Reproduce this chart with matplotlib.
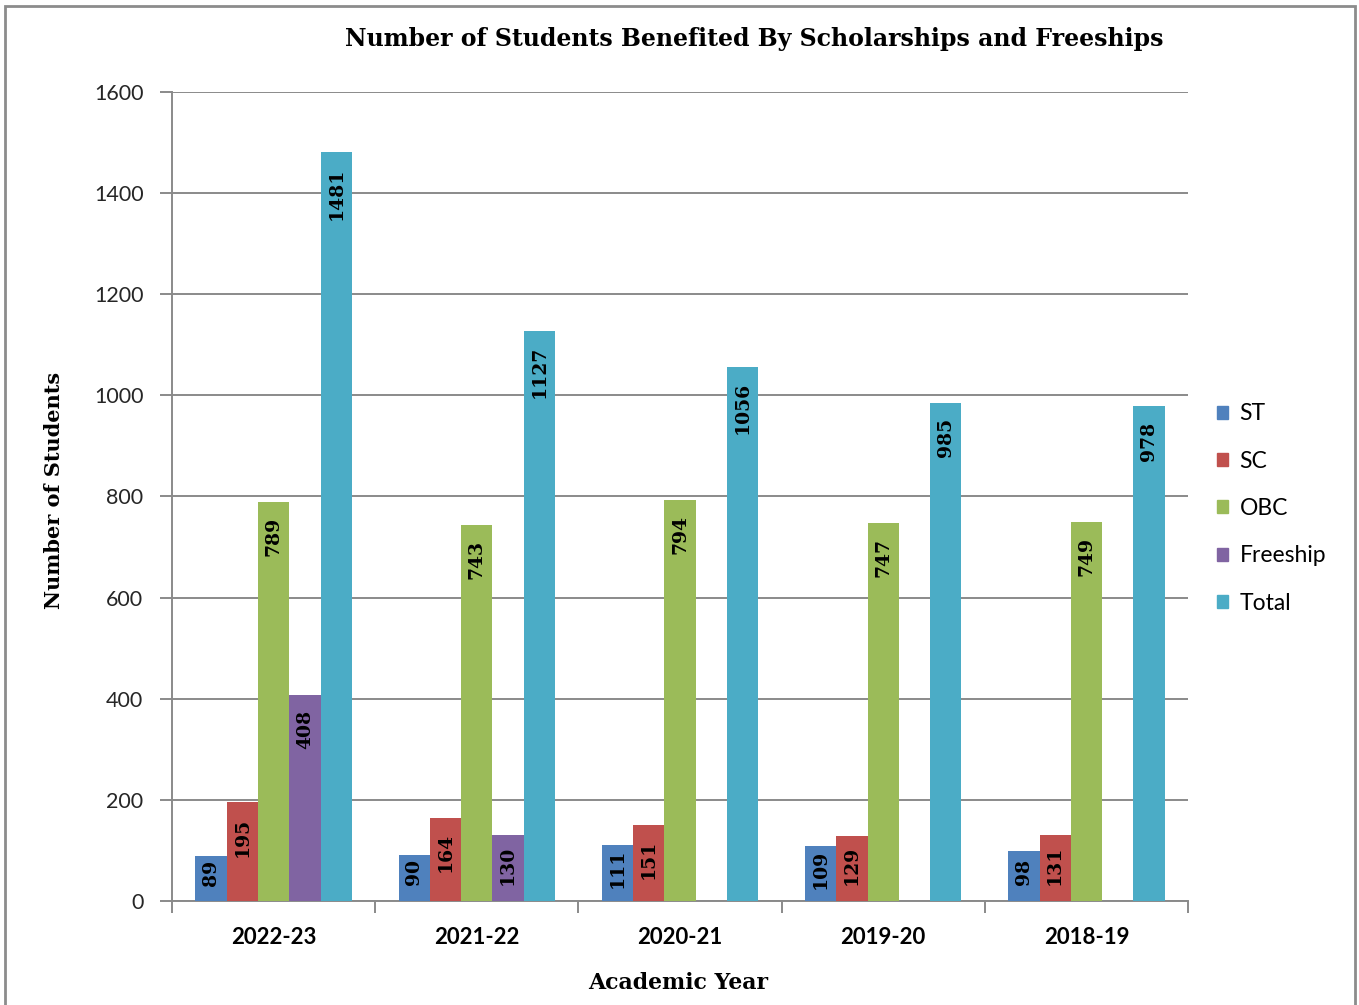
"""
Grouped bar chart: students benefited by scholarships and freeships.
"""
import numpy as np
import matplotlib.pyplot as plt
from matplotlib.patches import Rectangle, Patch

# Data

years = ["2022-23", "2021-22", "2020-21", "2019-20", "2018-19"]
series_names = ["ST", "SC", "OBC", "Freeship", "Total"]

st = [89, 90, 111, 109, 98]
sc = [195, 164, 151, 129, 131]
obc = [789, 743, 794, 747, 749]
freeship = [408, 130, np.nan, np.nan, np.nan]
total = [1481, 1127, 1056, 985, 978]

colors = ["#4F81BD", "#C0504D", "#9BBB59", "#8064A2", "#4BACC6"]

SANS = ["Lato", "DejaVu Sans"]
SERIF = ["DejaVu Serif"]

# Plot

fig = plt.figure(figsize=(13.59, 10.05), dpi=100)
ax = fig.add_axes([0.1266, 0.1035, 0.7476, 0.805])

x = np.arange(len(years))
bar_w = 0.154
all_series = [st, sc, obc, freeship, total]

# pixels per data unit on y (axes is 809 px tall for 0..1600)
px_per_unit = 809 / 1600

for i, (name, vals) in enumerate(zip(series_names, all_series)):
    pos = x + (i - 2) * bar_w
    vals = np.array(vals, dtype=float)
    ax.bar(pos, np.nan_to_num(vals), width=bar_w, color=colors[i],
           label=name, zorder=3)
    for xp, v in zip(pos, vals):
        if np.isnan(v):
            continue
        txt = f"{int(v)}"
        # inside end, pulled up a little when the bar is short
        label_px = 13.5 * len(txt)
        bar_px = v * px_per_unit
        off_px = max(4, min(15, bar_px - 15 - label_px))
        ax.text(xp, v - off_px / px_per_unit, txt, rotation=90,
                ha="center", va="top", fontsize=13.5, fontweight="bold",
                family=SERIF, zorder=4)

ax.set_xlim(-0.5, len(years) - 0.5)
ax.set_ylim(0, 1600)
ax.set_yticks(np.arange(0, 1601, 200))
ax.yaxis.grid(True, color="#8a8a8a", linewidth=1.4, zorder=0)
ax.set_axisbelow(True)

ax.set_xticks(x)
ax.set_xticklabels(years)
ax.set_xticks(np.arange(-0.5, len(years), 1), minor=True)
ax.tick_params(axis="x", which="major", length=0, pad=19)
ax.tick_params(axis="x", which="minor", length=8.6, width=1.4,
               color="#8a8a8a", direction="out")
ax.tick_params(axis="y", length=8.6, width=1.4, color="#8a8a8a", pad=12)

for lbl in ax.get_xticklabels():
    lbl.set_family(SANS)
    lbl.set_fontweight("bold")
    lbl.set_fontsize(16)
for lbl in ax.get_yticklabels():
    lbl.set_family(SANS)
    lbl.set_fontsize(15.5)
    lbl.set_color("#262626")

for side in ["top", "right"]:
    ax.spines[side].set_visible(False)
for side in ["left", "bottom"]:
    ax.spines[side].set_color("#8a8a8a")
    ax.spines[side].set_linewidth(1.4)

fig.text(0.555, 0.961, "Number of Students Benefited By Scholarships and Freeships",
         ha="center", va="center", fontsize=17, fontweight="bold", family=SERIF)
fig.text(0.040, 0.512, "Number of Students", rotation=90, ha="center",
         va="center", fontsize=15, fontweight="bold", family=SERIF)
fig.text(0.499, 0.022, "Academic Year", ha="center", va="center",
         fontsize=15.8, fontweight="bold", family=SERIF)

handles = [Patch(color=c, label=n) for c, n in zip(colors, series_names)]
fig.legend(handles=handles, loc="center left", bbox_to_anchor=(0.880, 0.494),
           frameon=False, handlelength=0.5, handleheight=0.5,
           handletextpad=0.5, labelspacing=1.15,
           prop={"family": SANS, "size": 16.5})

# outer chart frame
fig.patches.append(Rectangle((5 / 1359, -0.01), 1350 / 1359, 1.0 - 6 / 1005 + 0.01,
                             transform=fig.transFigure, fill=False,
                             edgecolor="#8c8c8c", linewidth=2))

fig.savefig("out.png", dpi=100)
